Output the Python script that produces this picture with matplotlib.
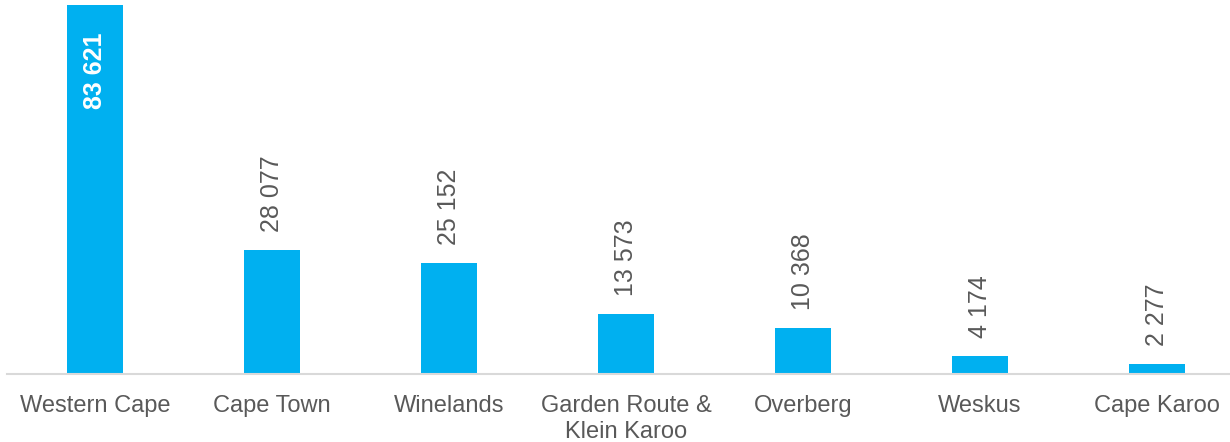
import matplotlib.pyplot as plt

plt.rcParams["font.family"] = ["Liberation Sans", "DejaVu Sans"]

regions = ["Western Cape", "Cape Town", "Winelands", "Garden Route &\nKlein Karoo",
           "Overberg", "Weskus", "Cape Karoo"]
values = [83621, 28077, 25152, 13573, 10368, 4174, 2277]

bar_color = "#00b0f0"
text_color = "#595959"

fig = plt.figure(figsize=(12.3, 4.42), dpi=100)
ax = fig.add_axes([6.5 / 1230, 68 / 442, 1223.5 / 1230, 369 / 442])

x = range(len(regions))
ax.bar(x, values, width=0.316, color=bar_color, zorder=2)

ax.set_xlim(-0.5, -0.5 + 1223.5 / 177)
ax.set_ylim(0, max(values))


def fmt(v):
    return f"{v:,}".replace(",", " ")


for i, v in enumerate(values):
    if v == max(values):
        # the tallest bar carries its label inside, in white
        ax.annotate(fmt(v), (i, v), xytext=(0, -20), textcoords="offset points",
                    rotation=90, ha="center", va="top", fontsize=18,
                    fontweight="bold", color="white")
    else:
        ax.annotate(fmt(v), (i, v), xytext=(0, 13), textcoords="offset points",
                    rotation=90, ha="center", va="bottom", fontsize=18,
                    color=text_color)

ax.set_xticks(list(x))
ax.set_xticklabels(regions, fontsize=17, color=text_color, linespacing=1.25)
ax.tick_params(axis="x", length=0, pad=15)
ax.set_yticks([])

for side in ["top", "right", "left"]:
    ax.spines[side].set_visible(False)
ax.spines["bottom"].set_color("#d9d9d9")
ax.spines["bottom"].set_linewidth(1.5)

fig.savefig("out.png", dpi=100)
